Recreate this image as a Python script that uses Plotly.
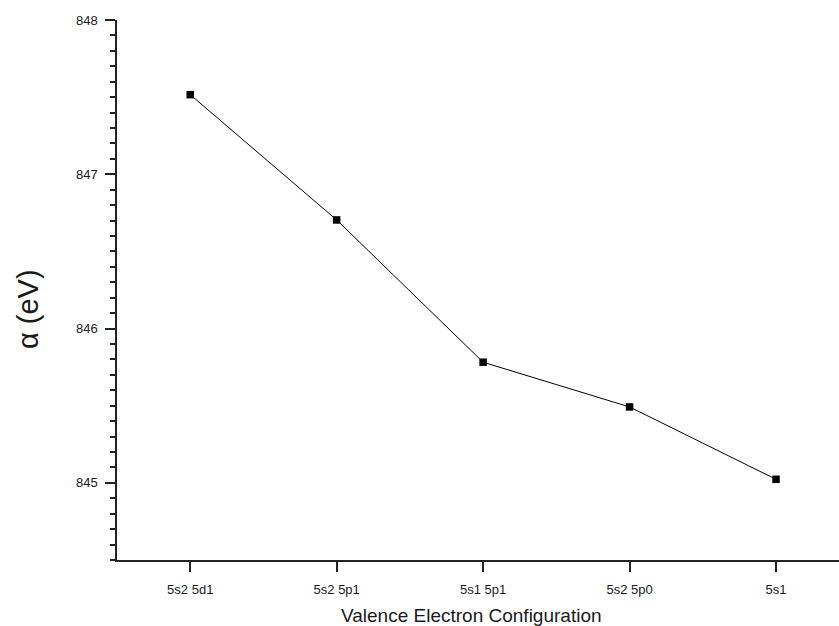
import plotly.graph_objects as go

# Valence electron configurations and the corresponding alpha values (eV)
configs = ["5s2 5d1", "5s2 5p1", "5s1 5p1", "5s2 5p0", "5s1"]
alpha_ev = [847.516, 846.704, 845.782, 845.492, 845.023]

fig = go.Figure()
fig.add_trace(go.Scatter(
    x=list(range(len(configs))),
    y=alpha_ev,
    mode="lines+markers",
    line=dict(color="black", width=1),
    marker=dict(symbol="square", size=7.5, color="black"),
    showlegend=False,
))

axis_font = dict(family="Liberation Sans, Arial, sans-serif", color="#1a1a1a")

fig.update_layout(
    width=839,
    height=626,
    margin=dict(l=117, r=0, t=20, b=66),
    paper_bgcolor="white",
    plot_bgcolor="white",
    font=axis_font,
    xaxis=dict(
        range=[-0.5, 4.43],
        tickmode="array",
        tickvals=list(range(len(configs))),
        ticktext=configs,
        ticks="outside",
        ticklen=10,
        tickwidth=1.5,
        tickcolor="#222222",
        showline=True,
        linecolor="#222222",
        linewidth=1.5,
        showgrid=False,
        zeroline=False,
        tickfont=dict(size=13),
        ticklabelstandoff=7,
    ),
    yaxis=dict(
        range=[844.5, 848],
        tickmode="linear",
        tick0=845,
        dtick=1,
        ticks="outside",
        ticklen=10,
        tickwidth=1.5,
        tickcolor="#222222",
        minor=dict(dtick=0.1, tick0=845, ticks="outside", ticklen=5, tickwidth=1.5, tickcolor="#222222"),
        showline=True,
        linecolor="#222222",
        linewidth=1.5,
        showgrid=False,
        zeroline=False,
        tickfont=dict(size=13),
        tickformat="d",
        ticklabelstandoff=5,
    ),
    annotations=[
        dict(
            text="Valence Electron Configuration",
            xref="paper", yref="paper",
            x=(471 - 117) / 722, y=-(615 - 560) / 540,
            xanchor="center", yanchor="middle",
            showarrow=False,
            font=dict(size=19),
        ),
        dict(
            text="α (eV)",
            xref="paper", yref="paper",
            x=-(117 - 28) / 722, y=(560 - 309) / 540,
            xanchor="center", yanchor="middle",
            textangle=-90,
            showarrow=False,
            font=dict(size=29),
        ),
    ],
)

fig.write_html("out.html")
